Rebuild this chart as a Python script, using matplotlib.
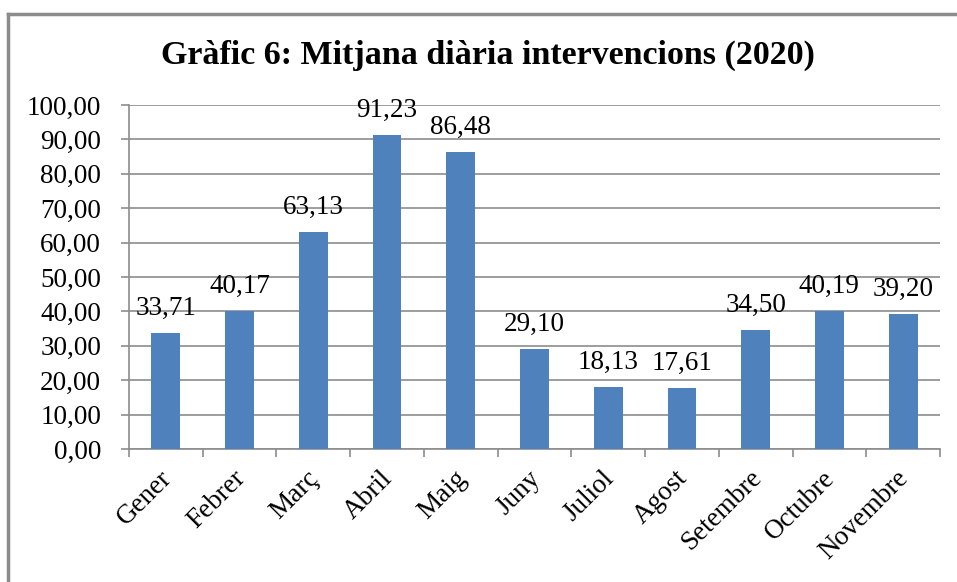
import matplotlib.pyplot as plt
import matplotlib.transforms as mtransforms
import numpy as np
from matplotlib.lines import Line2D

mesos = ['Gener', 'Febrer', 'Març', 'Abril', 'Maig', 'Juny', 'Juliol',
         'Agost', 'Setembre', 'Octubre', 'Novembre']
mitjana = [33.71, 40.17, 63.13, 91.23, 86.48, 29.10, 18.13, 17.61, 34.50, 40.19, 39.20]

plt.rcParams['font.family'] = ['Liberation Serif', 'DejaVu Serif']

fig = plt.figure(figsize=(9.57, 5.82), dpi=100)
ax = fig.add_axes([129/957, 1 - 449/582, (940-129)/957, (449-105)/582])

x = np.arange(len(mesos))
ax.bar(x, mitjana, width=0.39, color='#4f81bd', zorder=3)

# etiquetes de valor
for xi, v in zip(x, mitjana):
    ax.annotate(f'{v:.2f}'.replace('.', ','), (xi, v), xytext=(0, 13),
                textcoords='offset points', ha='center', va='baseline',
                fontsize=19.5, zorder=4)

ax.set_xlim(-0.5, len(mesos) - 0.5)
ax.set_ylim(0, 100)
ax.set_yticks(np.arange(0, 101, 10))
ax.set_yticklabels([f'{t:.2f}'.replace('.', ',') for t in np.arange(0, 101, 10)], fontsize=19.5)
ax.yaxis.grid(True, color='#8c8c8c', linewidth=1.2, zorder=0)

ax.set_xticks(x)
ax.set_xticklabels(mesos, rotation=45, ha='right', rotation_mode='anchor', fontsize=19.5)
ax.tick_params(axis='x', length=0, pad=12)
desp = mtransforms.ScaledTranslation(-7/100, 0, fig.dpi_scale_trans)
for lbl in ax.get_xticklabels():
    lbl.set_transform(lbl.get_transform() + desp)
ax.set_xticks(np.arange(-0.5, len(mesos)), minor=True)
ax.tick_params(axis='x', which='minor', length=6, color='#8c8c8c', width=1.2)
ax.tick_params(axis='y', length=6, color='#8c8c8c', width=1.2, pad=14)

for s in ['top', 'right']:
    ax.spines[s].set_visible(False)
for s in ['left', 'bottom']:
    ax.spines[s].set_color('#8c8c8c')
    ax.spines[s].set_linewidth(1.2)

fig.text(488/957, 1 - 55/582, 'Gràfic 6: Mitjana diària intervencions (2020)',
         ha='center', va='center', fontsize=24.5, fontweight='bold')

# marc del gràfic (retallat a dreta i a baix)
fig.add_artist(Line2D([8/957, 1], [1 - 14/582, 1 - 14/582], color='#8c8c8c', lw=2.5,
                      transform=fig.transFigure))
fig.add_artist(Line2D([8/957, 8/957], [0, 1 - 14/582], color='#8c8c8c', lw=2.5,
                      transform=fig.transFigure))

fig.savefig('out.png', dpi=100)
